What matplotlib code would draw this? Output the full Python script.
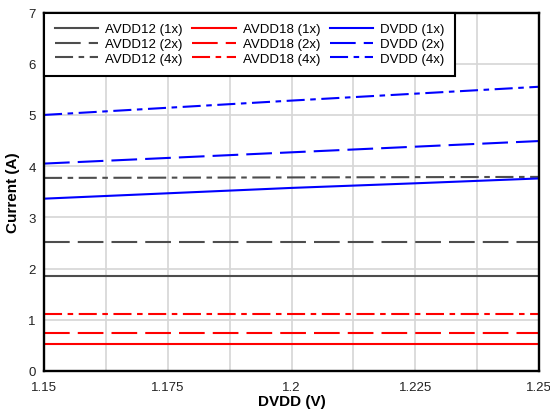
import matplotlib
matplotlib.use("Agg")
import matplotlib.pyplot as plt
from matplotlib.ticker import MultipleLocator

plt.rcParams['font.family'] = ['Liberation Sans', 'DejaVu Sans']
plt.rcParams['lines.scale_dashes'] = False

x = [1.15, 1.175, 1.2, 1.225, 1.25]
avdd12_1x = [1.86, 1.86, 1.86, 1.86, 1.86]
avdd12_2x = [2.515, 2.515, 2.515, 2.515, 2.515]
avdd12_4x = [3.77, 3.775, 3.78, 3.785, 3.79]
avdd18_1x = [0.53, 0.53, 0.53, 0.53, 0.53]
avdd18_2x = [0.735, 0.735, 0.735, 0.735, 0.735]
avdd18_4x = [1.115, 1.115, 1.115, 1.115, 1.115]
dvdd_1x = [3.365, 3.47, 3.575, 3.665, 3.76]
dvdd_2x = [4.05, 4.16, 4.27, 4.38, 4.49]
dvdd_4x = [5.0, 5.14, 5.28, 5.415, 5.55]

labels = ['AVDD12 (1x)', 'AVDD12 (2x)', 'AVDD12 (4x)',
          'AVDD18 (1x)', 'AVDD18 (2x)', 'AVDD18 (4x)',
          'DVDD (1x)', 'DVDD (2x)', 'DVDD (4x)']
series = [avdd12_1x, avdd12_2x, avdd12_4x,
          avdd18_1x, avdd18_2x, avdd18_4x,
          dvdd_1x, dvdd_2x, dvdd_4x]

colors = ['#4d4d4d'] * 3 + ['#ff0000'] * 3 + ['#0000ff'] * 3
styles = ['-', (0, (18.5, 5.8)), (0, (13, 4, 4, 4))] * 3

fig = plt.figure(figsize=(5.5, 4.14), dpi=100)
ax = fig.add_axes([44 / 550, 1 - 372 / 414, (539 - 44) / 550, (372 - 13.5) / 414])

for lab, ys, c, ls in zip(labels, series, colors, styles):
    ax.plot(x, ys, color=c, linestyle=ls, linewidth=1.5, label=lab)

ax.set_xlim(1.15, 1.25)
ax.set_ylim(0, 7)
ax.xaxis.set_major_locator(MultipleLocator(0.025))
ax.xaxis.set_minor_locator(MultipleLocator(0.0125))
ax.yaxis.set_major_locator(MultipleLocator(1))
ax.set_xticks([1.15, 1.175, 1.2, 1.225, 1.25])
ax.set_xticklabels(['1.15', '1.175', '1.2', '1.225', '1.25'])
ax.grid(True, which='both', axis='x', color='#d6d6d6', linewidth=1.2)
ax.grid(True, which='major', axis='y', color='#d6d6d6', linewidth=1.2)
ax.set_axisbelow(True)
ax.tick_params(axis='both', which='both', length=0, labelsize=9.5, colors='#222222')
ax.tick_params(axis='x', pad=7)
ax.tick_params(axis='y', pad=6)
for sp in ax.spines.values():
    sp.set_linewidth(1.7)
    sp.set_color('black')

ax.set_xlabel('DVDD (V)', fontsize=11, fontweight='bold', labelpad=1)
ax.set_ylabel('Current (A)', fontsize=11, fontweight='bold', labelpad=6)

leg = ax.legend(loc='upper left', ncol=3, fontsize=9.5, borderaxespad=0,
                handlelength=3.3, handletextpad=0.55, columnspacing=0.7,
                labelspacing=0.2, borderpad=0.8, fancybox=False, framealpha=1)
leg.get_frame().set_edgecolor('black')
leg.get_frame().set_linewidth(1.5)

fig.savefig('out.png', dpi=100)
